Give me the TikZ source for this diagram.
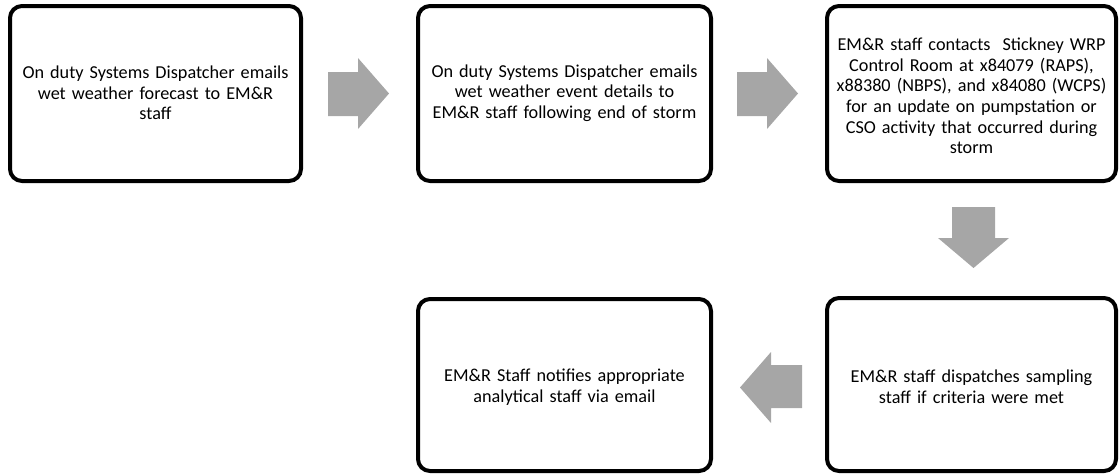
\documentclass[tikz,border=0pt]{standalone}
\usepackage{fontspec}
\setmainfont{Carlito}
\definecolor{arrowgray}{HTML}{A6A6A6}
\begin{document}
\begin{tikzpicture}[x=1pt,y=-1pt,
  stepbox/.style={draw=black,line width=4pt,rounded corners=12pt,fill=white},
  boxtext/.style={align=center,font=\fontsize{18.2}{20.6}\selectfont,text width=#1},
  blockarrow/.style={fill=arrowgray,draw=none}]
\useasboundingbox (0,0) rectangle (1119,475);
% boxes
\draw[stepbox] (10,6) rectangle (301,181);
\draw[stepbox] (418,6) rectangle (711,181);
\draw[stepbox] (827,6) rectangle (1116,181);
\draw[stepbox] (827,298) rectangle (1116,471);
\draw[stepbox] (418,299) rectangle (711,471);
% texts
\node[boxtext=285pt] (b1) at (155.5,93) {On duty Systems Dispatcher emails\\wet weather forecast to EM\&R\\staff};
\node[boxtext=290pt] (b2) at (564.5,93) {On duty Systems Dispatcher emails\\wet weather event details to\\EM\&R staff following end of storm};
\node[boxtext=290pt] (b3) at (971.5,96) {EM\&R staff contacts\ \ Stickney WRP\\Control Room at x84079 (RAPS),\\x88380 (NBPS), and x84080 (WCPS)\\for an update on pumpstation or\\CSO activity that occurred during\\storm};
\node[boxtext=285pt] (b4) at (971.5,387) {EM\&R staff dispatches sampling\\staff if criteria were met};
\node[boxtext=285pt] (b5) at (564.5,387) {EM\&R Staff notifies appropriate\\analytical staff via email};
% block arrows
\fill[blockarrow] (328,72) -- (358,72) -- (358,58) -- (389,93.5) -- (358,129) -- (358,116) -- (328,116) -- cycle;
\fill[blockarrow] (737,72) -- (767,72) -- (767,58) -- (798,93.5) -- (767,129) -- (767,116) -- (737,116) -- cycle;
\fill[blockarrow] (952,207) -- (995,207) -- (995,238) -- (1009,238) -- (973.5,268) -- (938,238) -- (952,238) -- cycle;
\fill[blockarrow] (802,365) -- (771,365) -- (771,352) -- (740,387.5) -- (771,423) -- (771,408) -- (802,408) -- cycle;
\end{tikzpicture}
\end{document}
